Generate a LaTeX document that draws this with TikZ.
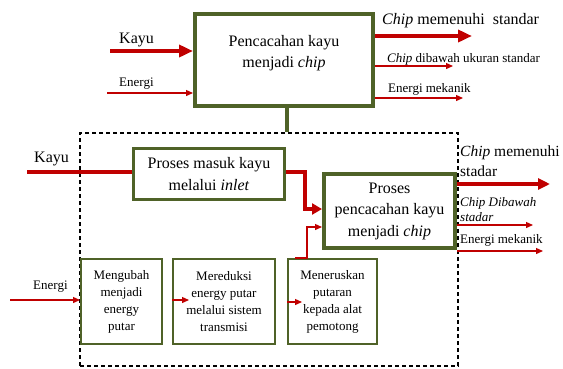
\documentclass[tikz,border=0pt]{standalone}
\usepackage{fontspec}
\setmainfont{Liberation Serif}
\usetikzlibrary{positioning,calc,arrows.meta}
\definecolor{olivebox}{RGB}{79,98,40}
\definecolor{flowred}{RGB}{192,0,0}
\tikzset{
	big/.style = {font=\fontsize{16}{21.5}\selectfont},
	small/.style = {font=\fontsize{13}{17}\selectfont},
	lbl/.style = {inner sep=0pt, anchor=west}, % free text labels, placed by their left edge
	main flow/.style = {draw=flowred, line width=4pt, -{Triangle[length=14pt,width=12pt]}},
	side flow/.style = {draw=flowred, line width=1.3pt, -{Triangle[length=7pt,width=6pt]}}
}

\begin{document}
\begin{tikzpicture}[x=1pt,y=-1pt]
	\tikzset{my box/.style = {rectangle, draw=olivebox, align=center, inner sep=2pt}}
	\tikzset{my frame/.style = {draw, line width=1.2pt, dash pattern=on 4pt off 3pt, inner sep=0pt}}
	\useasboundingbox (0,0) rectangle (563,368);
	% dashed block of the machine
	\node[my frame, minimum width=378pt, minimum height=233pt] (frame) at (269,249.5) {};
	% boxes
	\node[my box, big, line width=4pt, minimum width=178pt, minimum height=92pt] (1) at (284,60) {Pencacahan kayu\\menjadi \textit{chip}\\[-4pt]};
	\node[my box, big, line width=3pt, minimum width=151pt, minimum height=51pt] (2) at (209,174) {Proses masuk kayu\\melalui \textit{inlet}};
	\node[my box, big, line width=4pt, minimum width=131pt, minimum height=74pt] (3) at (389.5,211) {Proses\\pencacahan kayu\\menjadi \textit{chip}};
	\node[my box, small, line width=2pt, minimum width=81pt, minimum height=85pt] (4) at (121.5,301.5) {Mengubah\\menjadi\\energy\\putar};
	\node[my box, small, line width=2pt, minimum width=102pt, minimum height=85pt] (5) [right=9pt of 4] {Mereduksi\\energy putar\\melalui sistem\\transmisi};
	\node[my box, small, line width=2pt, minimum width=89pt, minimum height=85pt] (6) [right=11pt of 5] {Meneruskan\\putaran\\kepada alat\\pemotong};
	\draw[olivebox, line width=4pt] ([xshift=3pt]1.south) -- ([xshift=3pt]1.south |- frame.north);
	% labels
	\node[lbl, big] (k1) at (119,39.5) {Kayu};
	\node[lbl, small] (e1) at (119,84) {Energi};
	\node[lbl, big] (o1) at (382,20.5) {\textit{Chip} memenuhi\ \ standar};
	\node[lbl, small] (o2) at (387,59) {\textit{Chip} dibawah ukuran standar};
	\node[lbl, small] (o3) at (388,89) {Energi mekanik};
	\node[lbl, big] (k2) at (34,158.5) {Kayu};
	\node[lbl, small] (e2) at (33,287) {Energi};
	\node[lbl, align=left, font=\fontsize{15.5}{20}\selectfont] (o4) at (460,161.5) {\textit{Chip} memenuhi\\stadar};
	\node[lbl, align=left, font=\fontsize{13}{15}\selectfont\itshape] (o5) at (460,210) {Chip Dibawah\\stadar};
	\node[lbl, small] (o6) at (460,240) {Energi mekanik};
	% upper flows
	\coordinate (kin) at (110,51);
	\coordinate (ein) at (107,93);
	\coordinate (out1) at (472,36);
	\coordinate (out2) at (453,66);
	\coordinate (out3) at (463,98);
	\draw[main flow] (kin) -- (kin -| 1.west);
	\draw[side flow] (ein) -- (ein -| 1.west);
	\draw[main flow] (out1 -| 1.east) -- (out1);
	\draw[side flow] (out2 -| 1.east) -- (out2);
	\draw[side flow] (out3 -| 1.east) -- (out3);
	% lower flows
	\coordinate (kin2) at (27,172);
	\coordinate (turn1) at (305,209);
	\coordinate (turn2) at (307,227);
	\coordinate (ein2) at (10,300);
	\coordinate (a5) at (189,300);
	\coordinate (a6) at (302,302);
	\coordinate (out4) at (550,184);
	\coordinate (out5) at (533,225);
	\coordinate (out6) at (543,251);
	\draw[draw=flowred, line width=4pt] (kin2) -- (kin2 -| 2.west);
	\draw[main flow, -{Triangle[length=10pt,width=11pt]}] (2.east |- kin2) -| (turn1) -- (turn1 -| 3.west);
	\draw[side flow] ([xshift=-37.5pt]6.north) -| (turn2) -- (turn2 -| 3.west);
	\draw[side flow] (ein2) -- (ein2 -| 4.west);
	\draw[side flow] (a5 -| 5.west) -- (a5);
	\draw[side flow] (a6 -| 6.west) -- (a6);
	\draw[main flow, -{Triangle[length=12pt,width=11pt]}] (out4 -| 3.east) -- (out4);
	\draw[side flow] (out5 -| 3.east) -- (out5);
	\draw[side flow] (out6 -| 3.east) -- (out6);
\end{tikzpicture}
\end{document}
